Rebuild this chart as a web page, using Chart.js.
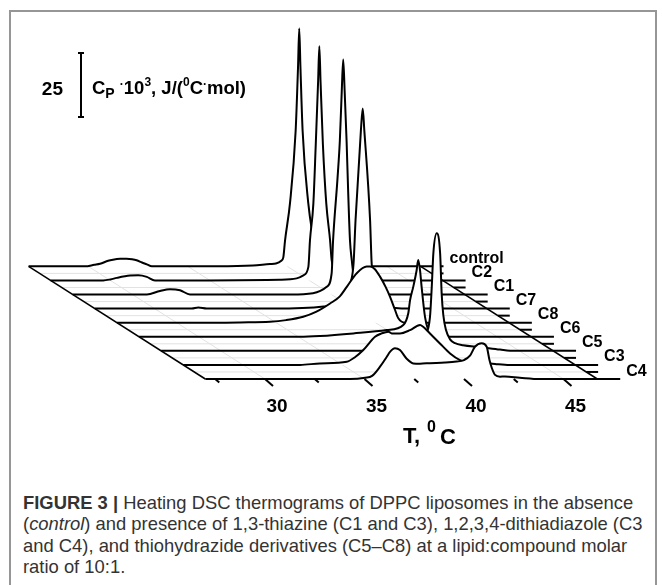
<!DOCTYPE html>
<html>
<head>
<meta charset="utf-8">
<script src="https://cdn.jsdelivr.net/npm/chart.js@4.4.1/dist/chart.umd.min.js"></script>
<style>
  html, body { margin: 0; padding: 0; background: #fff; }
  #wrap { position: relative; width: 662px; height: 585px; overflow: hidden; }
  #frame { position: absolute; left: 9px; top: 10px; width: 644px; height: 600px; border: 2px solid #969696; }
  #dsc { position: absolute; left: 0; top: 0; }
  #caption {
    position: absolute; left: 23px; top: 492px; width: 630px;
    font-family: "Liberation Sans", Arial, sans-serif; font-size: 18.4px; line-height: 21.3px;
    color: #333; white-space: nowrap;
  }
</style>
</head>
<body>
<div id="wrap">
  <div id="frame"></div>
  <canvas id="dsc" width="662" height="460"></canvas>
  <div id="caption">
    <b>FIGURE 3 |</b> Heating DSC thermograms of DPPC liposomes in the absence<br>
    (<i>control</i>) and presence of 1,3-thiazine (C1 and C3), 1,2,3,4-dithiadiazole (C3<br>
    and C4), and thiohydrazide derivatives (C5–C8) at a lipid:compound molar<br>
    ratio of 10:1.
  </div>
</div>
<script>
// rows listed back (control) to front (C4)
const rowLabels = ['control', 'C2', 'C1', 'C7', 'C8', 'C6', 'C5', 'C3', 'C4'];

// temperature (°C) and Cp (10^3 J/(°C·mol))
const controlT  = [27.0, 29.84, 30.3, 30.59, 31.0, 31.24, 31.6, 31.93, 32.2, 32.43, 32.7, 32.94, 33.19, 36.5, 38.28, 39.13, 39.43, 39.7, 39.8, 39.885, 40.14, 40.42, 40.54, 40.6, 40.66, 40.77, 41.05, 41.32, 41.45, 41.6, 41.9, 42.5, 47.85];
const controlCp = [0, 0, 0.6, 1.0, 2.2, 2.6, 2.95, 3.0, 2.8, 2.4, 1.5, 0.8, 0, 0, 0.3, 0.9, 1.1, 2.2, 3.5, 10, 25, 53, 78, 92.9, 78, 53, 25, 10, 3.5, 1.0, 0.3, 0, 0];

const c2T  = [27.0, 29.64, 30.0, 30.32, 30.99, 31.4, 31.83, 32.24, 38.5, 39.36, 39.7, 39.95, 40.03, 40.2, 40.32, 40.44, 40.5, 40.56, 40.68, 40.85, 41.04, 41.12, 41.29, 41.6, 42.0, 42.6, 47.85];
const c2Cp = [0, 0, 0.4, 1.0, 1.9, 2.0, 1.4, 0, 0.3, 0.8, 2.0, 5.3, 15.7, 30, 53, 78, 91.5, 78, 53, 30, 15.7, 7.9, 4.7, 1.5, 0.5, 0, 0];

const c1T  = [27.0, 30.72, 31.38, 31.88, 32.39, 32.89, 38.0, 39.07, 39.76, 40.01, 40.08, 40.3, 40.42, 40.52, 40.59, 40.66, 40.76, 40.84, 40.93, 41.02, 41.1, 41.3, 41.8, 42.4, 42.9, 47.85];
const c1Cp = [0, 0, 1.4, 2.1, 1.7, 0, 0, 0.5, 3, 8.4, 21, 45, 60, 80, 91.8, 80, 60, 40, 21.2, 13.4, 8.2, 3.5, 1, 0.2, 0, 0];

const c7T  = [27.0, 31.87, 32.2, 32.62, 36.0, 38.5, 39.5, 39.85, 40.0, 40.1, 40.37, 40.46, 40.54, 40.83, 40.91, 41.1, 41.5, 42.0, 42.6, 47.85];
const c7Cp = [0, 0, 0.4, 0, 0, 0.8, 4, 10, 17.6, 34.6, 69.7, 78.2, 69.7, 34.6, 17.6, 8, 2, 0.3, 0, 0];

const c8T  = [27.0, 32.0, 33.18, 34.69, 35.5, 36.36, 37.0, 37.71, 38.2, 38.55, 39.05, 39.55, 39.72, 39.95, 40.22, 40.5, 40.72, 40.95, 41.14, 41.48, 47.85];
const c8Cp = [0, 0, 0.1, 0.35, 1.0, 2.3, 4.2, 7.5, 10.3, 14.0, 19.3, 21.9, 21.9, 21, 18.0, 14, 10.2, 5.5, 1.7, 0, 0];

const c6T  = [27.0, 35.09, 36.09, 37.77, 39.45, 40.28, 40.53, 40.62, 40.78, 40.95, 41.03, 41.12, 41.2, 41.37, 41.52, 41.72, 42.12, 42.63, 47.85];
const c6Cp = [0, 0, 0.3, 1.3, 2.6, 4.6, 9.2, 14.3, 19.5, 26, 30, 26, 19.5, 7.8, 3, 1, 0.3, 0, 0];

const c5T  = [27.0, 37.0, 38.0, 39.0, 39.76, 40.26, 40.51, 40.6, 40.68, 40.85, 41.02, 41.1, 41.18, 41.32, 41.52, 41.77, 42.17, 43.02, 44.03, 44.78, 47.85];
const c5Cp = [0, 0, 0.3, 1.5, 3, 6, 13.2, 25, 38.1, 45.9, 38.1, 22, 14, 8, 4.5, 3.0, 2.2, 1.5, 0.5, 0, 0];

const c3T  = [27.0, 32.87, 33.87, 35.22, 35.63, 36.05, 36.64, 36.97, 37.31, 37.48, 37.89, 38.4, 38.9, 39.06, 39.4, 39.9, 40.41, 40.91, 41.25, 41.91, 42.67, 43.4, 47.85];
const c3Cp = [0, 0, 0.6, 1.25, 3, 5.8, 11, 12.3, 13.0, 12.3, 12.3, 13.6, 15.6, 14.9, 12.3, 8.4, 4.5, 1.9, 1.25, 1.0, 0.4, 0, 0];

const c4T  = [27.0, 34.27, 35.03, 35.38, 35.78, 36.12, 36.28, 36.53, 36.78, 37.12, 37.45, 37.79, 38.29, 39.05, 39.63, 40.0, 40.3, 40.55, 40.89, 41.14, 41.28, 41.39, 41.56, 41.81, 42.06, 42.81, 43.82, 47.85];
const c4Cp = [0, 0, 0.5, 1.2, 4.8, 8.7, 10.6, 12.0, 11.3, 7.9, 6.1, 6.0, 6.2, 6.4, 6.8, 7.4, 9.1, 12.6, 14.0, 12.6, 7.4, 4.5, 1.6, 0.9, 1.0, 0.5, 0, 0];

const tickValues = [27.5, 30, 32.5, 35, 37.5, 40, 42.5, 45];
const majorTicks = [30, 35, 40, 45];
const tickLabels = ['30', '35', '40', '45'];
const scaleBarValue = 25;

// waterfall geometry: each row further back is shifted left in T and up in Cp
const DEPTH_DX = 1.11;
const DEPTH_DY = 5.5;
const FLOOR_START = 27.0;
const FLOOR_END = 46.7;
const ROW_END = 47.85;

const seriesT = [controlT, c2T, c1T, c7T, c8T, c6T, c5T, c3T, c4T];
const seriesCp = [controlCp, c2Cp, c1Cp, c7Cp, c8Cp, c6Cp, c5Cp, c3Cp, c4Cp];
const nRows = rowLabels.length;
const FONT = '"Liberation Sans", Arial, sans-serif';

const datasets = rowLabels.map((label, i) => {
    const depth = nRows - 1 - i;
    return {
        label: label,
        data: seriesT[i].map((t, j) => ({ x: t - depth * DEPTH_DX, y: seriesCp[i][j] + depth * DEPTH_DY })),
        borderColor: '#000',
        borderWidth: 2,
        backgroundColor: '#fff',
        fill: { value: depth * DEPTH_DY },
        order: depth,
        pointRadius: 0,
        cubicInterpolationMode: 'monotone',
        borderJoinStyle: 'round'
    };
});

function line(ctx, x1, y1, x2, y2) {
    ctx.beginPath();
    ctx.moveTo(x1, y1);
    ctx.lineTo(x2, y2);
    ctx.stroke();
}

const floorPlugin = {
    id: 'floor',
    beforeDatasetsDraw(chart) {
        const { ctx } = chart;
        const xs = chart.scales.x, ys = chart.scales.y;
        const top = nRows - 1;
        ctx.save();
        // faint depth grid
        ctx.strokeStyle = '#e2e2e2';
        ctx.lineWidth = 1;
        majorTicks.forEach(t => {
            line(ctx, xs.getPixelForValue(t), ys.getPixelForValue(0),
                xs.getPixelForValue(t - top * DEPTH_DX), ys.getPixelForValue(top * DEPTH_DY));
        });
        for (let k = 1; k <= top; k++) {
            const d = k - 0.5;
            const y = ys.getPixelForValue(d * DEPTH_DY);
            ctx.strokeStyle = '#e2e2e2';
            line(ctx, xs.getPixelForValue(FLOOR_START - d * DEPTH_DX), y, xs.getPixelForValue(FLOOR_END - d * DEPTH_DX), y);
            ctx.strokeStyle = '#000';
            ctx.lineWidth = 2;
            line(ctx, xs.getPixelForValue(FLOOR_END - d * DEPTH_DX), y, xs.getPixelForValue(ROW_END - k * DEPTH_DX), y);
            ctx.lineWidth = 1;
        }
        // floor edges
        ctx.strokeStyle = '#000';
        ctx.lineWidth = 1.5;
        [FLOOR_START, FLOOR_END].forEach(t => {
            line(ctx, xs.getPixelForValue(t), ys.getPixelForValue(0),
                xs.getPixelForValue(t - top * DEPTH_DX), ys.getPixelForValue(top * DEPTH_DY));
        });
        ctx.restore();
    },
    afterDatasetsDraw(chart) {
        const { ctx } = chart;
        const xs = chart.scales.x, ys = chart.scales.y;
        const y0 = ys.getPixelForValue(0);
        ctx.save();
        ctx.strokeStyle = '#000';
        ctx.fillStyle = '#000';
        ctx.lineWidth = 2;
        // slanted ticks on the front row
        tickValues.forEach(t => {
            const px = xs.getPixelForValue(t);
            const major = majorTicks.includes(t);
            line(ctx, px, y0, px + (major ? 8 : 4), y0 + (major ? 7 : 3.5));
        });
        ctx.font = 'bold 19px ' + FONT;
        ctx.textAlign = 'center';
        ctx.textBaseline = 'alphabetic';
        majorTicks.forEach((t, i) => {
            ctx.fillText(tickLabels[i], xs.getPixelForValue(t) + 12, y0 + 33);
        });
        // axis title  T, 0C
        ctx.textAlign = 'left';
        ctx.font = 'bold 22px ' + FONT;
        ctx.fillText('T,', 403, 443);
        ctx.font = 'bold 16px ' + FONT;
        ctx.fillText('0', 427, 432);
        ctx.font = 'bold 22px ' + FONT;
        ctx.fillText('C', 440, 444);

        // row labels past the right edge
        ctx.font = 'bold 16px ' + FONT;
        rowLabels.forEach((label, i) => {
            const depth = nRows - 1 - i;
            ctx.fillText(label, xs.getPixelForValue(ROW_END - depth * DEPTH_DX) + 6, ys.getPixelForValue(depth * DEPTH_DY) - 3.5);
        });

        // Cp scale bar (25 units)
        const barLen = ys.getPixelForValue(0) - ys.getPixelForValue(scaleBarValue);
        const bx = 81, btop = 53;
        line(ctx, bx, btop, bx, btop + barLen);
        line(ctx, bx - 3, btop, bx + 3, btop);
        line(ctx, bx - 3, btop + barLen, bx + 3, btop + barLen);
        ctx.textAlign = 'right';
        ctx.font = 'bold 19px ' + FONT;
        ctx.fillText(String(scaleBarValue), 63, 95);
        ctx.textAlign = 'left';
        const big = 'bold 18.5px ' + FONT;
        const small = 'bold 12px ' + FONT;
        const parts = [
            ['C', big, 0], ['P', 'bold 14px ' + FONT, 4], [' ', big, 0],
            ['·', small, -6], ['10', big, 0], ['3', small, -8], [', J/(', big, 0],
            ['0', small, -8], ['C', big, 0], ['·', small, -6], ['mol)', big, 0]
        ];
        let px = 92;
        parts.forEach(([s, f, dy]) => {
            ctx.font = f;
            ctx.fillText(s, px, 94 + dy);
            px += ctx.measureText(s).width;
        });
        ctx.restore();
    }
};

new Chart(document.getElementById('dsc'), {
    type: 'line',
    data: { datasets: datasets },
    options: {
        responsive: false,
        animation: false,
        layout: { padding: 0 },
        scales: {
            x: { type: 'linear', min: 16.683, max: 49.95, display: false },
            y: { type: 'linear', min: -31.64, max: 148.05, display: false }
        },
        plugins: {
            legend: { display: false },
            tooltip: { enabled: false }
        }
    },
    plugins: [floorPlugin]
});
</script>
</body>
</html>
